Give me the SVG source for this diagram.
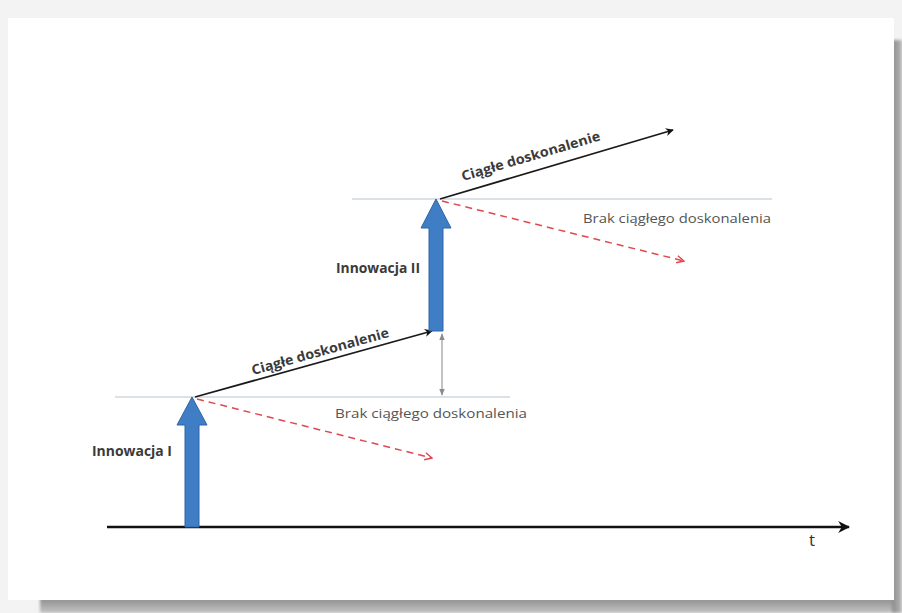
<svg xmlns="http://www.w3.org/2000/svg" width="902" height="613" viewBox="0 0 902 613">
  <defs>
    <linearGradient id="shadowB" x1="0" y1="0" x2="0" y2="1">
      <stop offset="0" stop-color="#8c8c8c"/>
      <stop offset="1" stop-color="#c4c4c4"/>
    </linearGradient>
    <linearGradient id="shadowR" x1="0" y1="0" x2="1" y2="0">
      <stop offset="0" stop-color="#8a8a8a"/>
      <stop offset="1" stop-color="#b8b8b8"/>
    </linearGradient>
    <filter id="soft" x="-5%" y="-5%" width="110%" height="110%">
      <feGaussianBlur stdDeviation="1.5"/>
    </filter>
    <marker id="blackHead" viewBox="0 0 10 10" refX="9" refY="5" markerWidth="8" markerHeight="8" orient="auto" markerUnits="userSpaceOnUse">
      <path d="M0,0 L10,5 L0,10 L3,5 Z" fill="#111"/>
    </marker>
    <marker id="axisHead" viewBox="0 0 10 10" refX="9" refY="5" markerWidth="12" markerHeight="12" orient="auto" markerUnits="userSpaceOnUse">
      <path d="M0,0 L10,5 L0,10 L3,5 Z" fill="#111"/>
    </marker>
    <marker id="redHead" viewBox="0 0 10 10" refX="9" refY="5" markerWidth="9" markerHeight="9" orient="auto" markerUnits="userSpaceOnUse">
      <path d="M1,1 L9,5 L1,9" fill="none" stroke="#e0474f" stroke-width="1.6"/>
    </marker>
    <marker id="greyHead" viewBox="0 0 10 10" refX="9" refY="5" markerWidth="7" markerHeight="7" orient="auto-start-reverse" markerUnits="userSpaceOnUse">
      <path d="M0,1 L10,5 L0,9 Z" fill="#8a8a8a"/>
    </marker>
  </defs>
  <style>
    .label { font-family: "Open Sans", "Liberation Sans", sans-serif; font-size: 13.5px; fill: #3a3a3a; font-weight: bold; }
    .note { font-family: "Open Sans", "Liberation Sans", sans-serif; font-size: 13.5px; fill: #555; }
    .guide { stroke: #b8c3cc; stroke-width: 1.2; }
    .trend { stroke: #1a1a1a; stroke-width: 1.8; fill: none; }
    .decline { stroke: #e0474f; stroke-width: 1.5; stroke-dasharray: 7 5; fill: none; }
    .block { fill: #3f7dc4; stroke: #2f64a8; stroke-width: 1; }
  </style>

  <!-- page background and card with shadow -->
  <rect x="0" y="0" width="902" height="613" fill="#f3f3f3"/>
  <g filter="url(#soft)">
    <rect x="40" y="598" width="862" height="15" fill="url(#shadowB)"/>
    <rect x="892" y="40" width="10" height="573" fill="url(#shadowR)"/>
  </g>
  <rect x="8" y="18" width="886" height="582" fill="#ffffff"/>

  <!-- connectors -->
  <g id="connectors">
    <line x1="107" y1="527" x2="849" y2="527" stroke="#111" stroke-width="2.4" marker-end="url(#axisHead)"/>
    <line class="guide" x1="115" y1="397" x2="510" y2="397"/>
    <line class="guide" x1="352" y1="199" x2="772" y2="199"/>
    <line class="trend" x1="195" y1="397" x2="432" y2="331" marker-end="url(#blackHead)"/>
    <line class="decline" x1="197" y1="399" x2="432" y2="458" marker-end="url(#redHead)"/>
    <line class="trend" x1="440" y1="199" x2="673" y2="130" marker-end="url(#blackHead)"/>
    <line class="decline" x1="442" y1="201" x2="684" y2="261" marker-end="url(#redHead)"/>
    <line x1="442" y1="334" x2="442" y2="395" stroke="#9a9a9a" stroke-width="1.2" marker-start="url(#greyHead)" marker-end="url(#greyHead)"/>
  </g>

  <!-- innovation I -->
  <g id="innovation1">
    <path class="block" d="M185,527 L185,425 L177,425 L192,397 L207,425 L199,425 L199,527 Z"/>
    <text class="label" x="92" y="456" textLength="80" lengthAdjust="spacingAndGlyphs">Innowacja I</text>
  </g>

  <!-- innovation II -->
  <g id="innovation2">
    <path class="block" d="M429,331 L429,228 L421,228 L436,199 L451,228 L443,228 L443,331 Z"/>
    <text class="label" x="336" y="273" textLength="84" lengthAdjust="spacingAndGlyphs">Innowacja II</text>
  </g>

  <!-- trend labels -->
  <g id="improve1">
    <text class="label" transform="translate(253,375) rotate(-15.6)" textLength="142" lengthAdjust="spacingAndGlyphs">Ciągłe doskonalenie</text>
  </g>
  <g id="improve2">
    <text class="label" transform="translate(463,181) rotate(-16.5)" textLength="144" lengthAdjust="spacingAndGlyphs">Ciągłe doskonalenie</text>
  </g>
  <g id="noImprove1">
    <text class="note" x="335" y="418" textLength="192" lengthAdjust="spacingAndGlyphs">Brak ciągłego doskonalenia</text>
  </g>
  <g id="noImprove2">
    <text class="note" x="583" y="223" textLength="188" lengthAdjust="spacingAndGlyphs">Brak ciągłego doskonalenia</text>
  </g>
  <g id="timeAxis">
    <text class="note" x="809" y="546" style="font-size:17px; fill:#333">t</text>
  </g>
</svg>
